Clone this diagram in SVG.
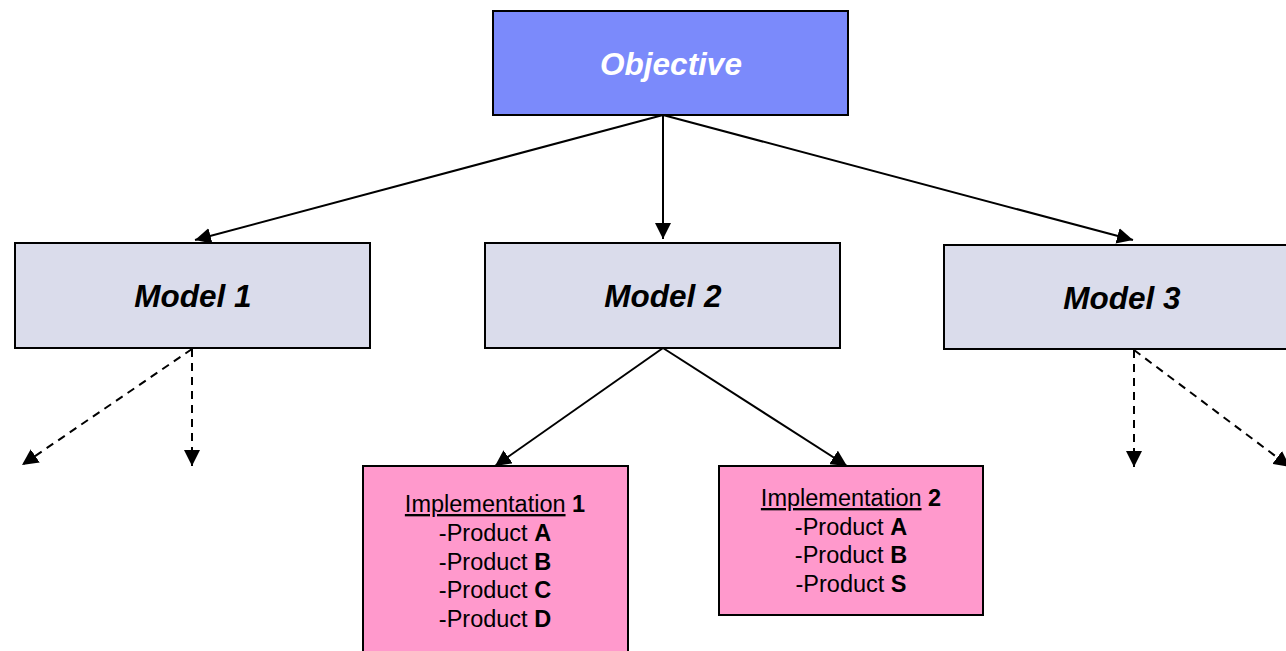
<svg xmlns="http://www.w3.org/2000/svg" width="1286" height="651" viewBox="0 0 1286 651">
<style>
.box{stroke:#000;stroke-width:2}
.obj{fill:#7B8AFB}
.mod{fill:#DADCEB}
.imp{fill:#FF99CC}
.t{font-family:"Liberation Sans",Arial,sans-serif;text-anchor:middle}
.big{font-size:31.5px;font-weight:bold;font-style:italic}
.sm{font-size:23.5px}
.c{stroke:#000;stroke-width:2;fill:none}
.d{stroke-dasharray:8,6}
</style>
<defs>
<marker id="ah" viewBox="0 0 10 10" refX="10" refY="5" markerWidth="8" markerHeight="8" markerUnits="strokeWidth" orient="auto">
<path d="M0,0 L10,5 L0,10 z" fill="#000"/>
</marker>
</defs>
<g id="connectors">
<line class="c" x1="663" y1="115" x2="195" y2="240" marker-end="url(#ah)"/>
<line class="c" x1="663" y1="115" x2="663" y2="239" marker-end="url(#ah)"/>
<line class="c" x1="663" y1="115" x2="1133" y2="240" marker-end="url(#ah)"/>
<line class="c" x1="663" y1="348" x2="495" y2="466" marker-end="url(#ah)"/>
<line class="c" x1="663" y1="348" x2="847" y2="466" marker-end="url(#ah)"/>
<line class="c d" x1="192" y1="349" x2="22" y2="465" marker-end="url(#ah)"/>
<line class="c d" x1="192" y1="349" x2="192" y2="466" marker-end="url(#ah)"/>
<line class="c d" x1="1134" y1="350" x2="1134" y2="467" marker-end="url(#ah)"/>
<line class="c d" x1="1134" y1="350" x2="1290" y2="467" marker-end="url(#ah)"/>
</g>
<g id="objective">
<rect class="box obj" x="493" y="11" width="355" height="104"/>
<text class="t big" x="671" y="75" fill="#fff">Objective</text>
</g>
<g id="model1">
<rect class="box mod" x="15" y="243" width="355" height="105"/>
<text class="t big" x="193" y="307">Model 1</text>
</g>
<g id="model2">
<rect class="box mod" x="485" y="243" width="355" height="105"/>
<text class="t big" x="663" y="307">Model 2</text>
</g>
<g id="model3">
<rect class="box mod" x="944" y="245" width="350" height="104"/>
<text class="t big" x="1122" y="309">Model 3</text>
</g>
<g id="impl1">
<rect class="box imp" x="363" y="466" width="265" height="195"/>
<text class="t sm" x="495" y="512"><tspan text-decoration="underline">Implementation</tspan> <tspan font-weight="bold">1</tspan></text>
<text class="t sm" x="495" y="541">-Product <tspan font-weight="bold">A</tspan></text>
<text class="t sm" x="495" y="570">-Product <tspan font-weight="bold">B</tspan></text>
<text class="t sm" x="495" y="598">-Product <tspan font-weight="bold">C</tspan></text>
<text class="t sm" x="495" y="627">-Product <tspan font-weight="bold">D</tspan></text>
</g>
<g id="impl2">
<rect class="box imp" x="719" y="466" width="264" height="149"/>
<text class="t sm" x="851" y="506"><tspan text-decoration="underline">Implementation</tspan> <tspan font-weight="bold">2</tspan></text>
<text class="t sm" x="851" y="535">-Product <tspan font-weight="bold">A</tspan></text>
<text class="t sm" x="851" y="563">-Product <tspan font-weight="bold">B</tspan></text>
<text class="t sm" x="851" y="592">-Product <tspan font-weight="bold">S</tspan></text>
</g>
</svg>
